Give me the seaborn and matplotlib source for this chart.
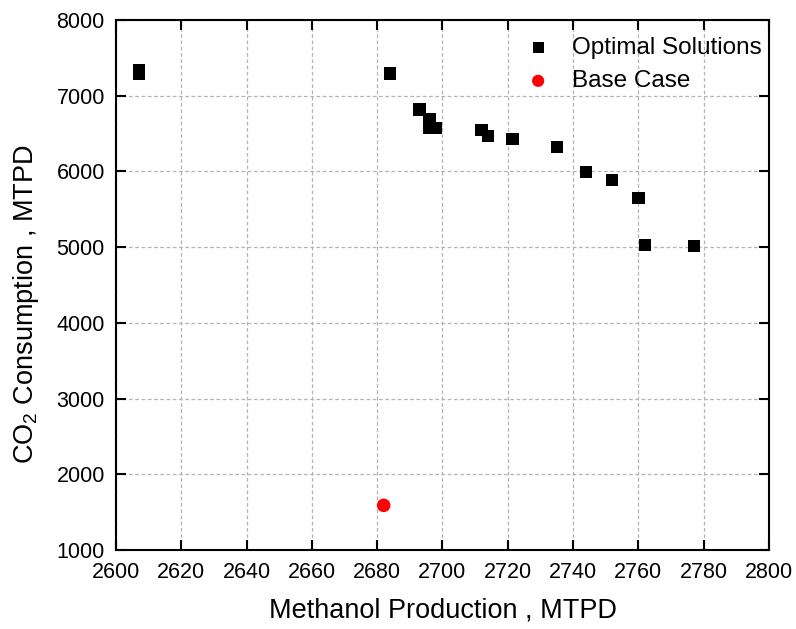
""" Methanol production vs CO2 consumption: optimal solutions and base case """

import numpy as np
import pandas as pd
import matplotlib
matplotlib.use("Agg")
import matplotlib.pyplot as plt
import seaborn as sns

# optimal solutions
opt_methanol = [2607, 2607, 2684, 2693, 2696, 2696, 2698, 2712, 2714, 2721.5,
                2735, 2744, 2752, 2760, 2762, 2777]
opt_co2 = [7340, 7290, 7295, 6820, 6685, 6570, 6570, 6550, 6465, 6430,
           6320, 5995, 5885, 5650, 5025, 5015]

# base case
base_methanol = [2682]
base_co2 = [1590]

x_ticks = np.arange(2600, 2801, 20)
y_ticks = np.arange(1000, 8001, 1000)

sns.set_style("ticks")
plt.rcParams['font.family'] = ['Liberation Sans', 'DejaVu Sans']
plt.rcParams['mathtext.fontset'] = 'custom'
plt.rcParams['mathtext.rm'] = 'Liberation Sans'
plt.rcParams['mathtext.it'] = 'Liberation Sans:italic'
plt.rcParams['text.color'] = 'black'
plt.rcParams['axes.labelcolor'] = 'black'
plt.rcParams['xtick.color'] = 'black'
plt.rcParams['ytick.color'] = 'black'
plt.rcParams['axes.edgecolor'] = 'black'

df_opt = pd.DataFrame({"methanol": opt_methanol, "co2": opt_co2})
df_base = pd.DataFrame({"methanol": base_methanol, "co2": base_co2})

fig = plt.figure(figsize=(7.96, 6.29), dpi=100)
ax = fig.add_axes([0.1457, 0.1256, 0.8203, 0.8426])

ax.grid(True, color="#b4b4b4", linestyle=(0, (3, 2)), linewidth=0.9, zorder=0)
ax.set_axisbelow(True)

sns.scatterplot(data=df_opt, x="methanol", y="co2", marker="s", s=80,
                color="black", edgecolor="none", label="Optimal Solutions", ax=ax, zorder=3)
sns.scatterplot(data=df_base, x="methanol", y="co2", marker="o", s=95,
                color="red", edgecolor="none", label="Base Case", ax=ax, zorder=3)

ax.set_xlim(2600, 2800)
ax.set_ylim(1000, 8000)
ax.set_xticks(x_ticks)
ax.set_yticks(y_ticks)

ax.tick_params(direction="in", length=7, width=1.5, labelsize=15.5,
               top=True, right=True)
ax.tick_params(axis="x", pad=9)
ax.tick_params(axis="y", pad=8)
for sp in ax.spines.values():
    sp.set_linewidth(1.5)

ax.set_xlabel("Methanol Production , MTPD", fontsize=19.5, labelpad=10)
ax.set_ylabel("CO$_2$ Consumption , MTPD", fontsize=19.5, labelpad=14)
ax.yaxis.set_label_coords(-0.115, 0.464)

ax.legend(loc="upper right", frameon=False, fontsize=17.5, handletextpad=0.4,
          labelspacing=0.47, borderaxespad=0.05, markerscale=0.9,
          bbox_to_anchor=(1.006, 0.989))

plt.savefig("out.png", dpi=100)
